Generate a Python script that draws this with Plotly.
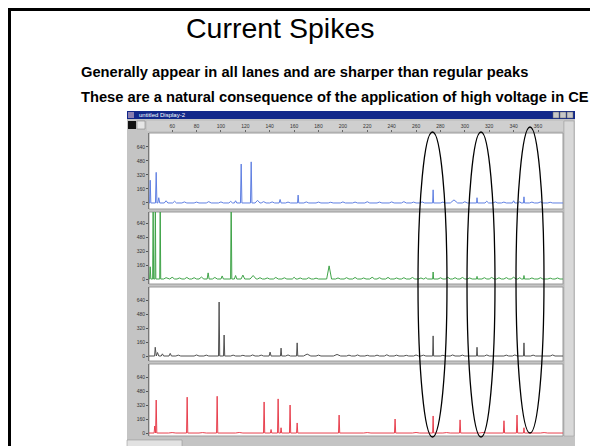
import plotly.graph_objects as go

W, H = 590, 446

# ---------------- data ----------------
title_text = "Current Spikes"
line1_text = "Generally appear in all lanes and are sharper than regular peaks"
line2_text = "These are a natural consequence of the application of high voltage in CE"
window_title = "untitled Display-2"

ruler_ticks = [60, 80, 100, 120, 140, 160, 180, 200, 220, 240, 260, 280, 300, 320, 340, 360]
y_ticks = [0, 160, 320, 480, 640]

# lane 1 (blue): peak positions, heights, half widths
blue_pos = [42.0, 46.9, 49, 55, 62, 70, 80, 90, 100, 108, 112, 116.6, 124.8, 130, 135, 142, 148.5, 155,
            163.3, 170, 180, 190, 200, 210, 220, 230, 240, 250, 258, 265, 274, 282, 291.1, 300, 310, 318,
            325, 332, 340, 345, 348.5, 355, 362, 370]
blue_h = [260, 350, 60, 25, 20, 12, 10, 15, 12, 18, 25, 445, 470, 30, 15, 12, 40, 10,
          90, 12, 10, 8, 12, 10, 14, 10, 12, 15, 10, 12, 150, 10, 35, 14, 60, 20,
          12, 10, 25, 15, 70, 10, 12, 8]
blue_w = [0.5, 0.6, 0.8, 1.5, 1.5, 2, 2, 2, 2, 1.5, 1, 0.6, 0.6, 2, 2, 2, 0.8, 2,
          0.5, 2, 2, 2, 2, 2, 2, 2, 2, 2, 2, 2, 0.4, 2, 3, 2, 0.4, 1.5,
          2, 2, 1, 1, 0.4, 2, 2, 2]

# lane 2 (green)
green_pos = [42, 44.4, 46.2, 50.2, 55, 60, 66, 72, 78, 84, 89.5, 95, 101, 108.4, 112, 118, 126.4, 132,
             138, 145, 152, 160, 165, 172, 178, 188.7, 196, 203, 210, 217, 224, 230, 237, 244, 250, 257,
             264, 268, 274, 280, 286, 292, 298, 304, 310, 316, 322, 328, 334, 340, 345, 348.5, 355, 362,
             370, 376]
green_h = [140, 900, 900, 900, 15, 20, 12, 18, 15, 22, 70, 18, 35, 900, 40, 45, 40, 15,
           12, 18, 14, 20, 12, 15, 10, 150, 12, 15, 18, 12, 20, 15, 18, 12, 15, 18,
           12, 15, 80, 14, 20, 15, 18, 12, 30, 15, 18, 14, 16, 20, 15, 40, 12, 15,
           10, 12]
green_w = [0.5, 0.4, 0.4, 0.4, 2, 2, 2, 2, 2, 2, 0.8, 2, 1, 0.5, 1, 1.5, 2.5, 2,
           2, 2, 2, 1.5, 2, 2, 2, 2, 2, 2, 2, 2, 2, 2, 2, 2, 2, 2,
           2, 1.5, 0.4, 2, 2, 2, 2, 2, 0.4, 2, 2, 2, 2, 2, 1.5, 0.4, 2, 2,
           2, 2]

# lane 3 (black)
black_pos = [46.1, 48, 52, 58.4, 65, 72, 80, 88, 98.5, 102.6, 110, 118, 126, 133, 140.3, 149.3, 155,
             162.5, 170.7, 180, 186, 195.2, 205, 212, 220, 228, 236, 244, 252, 260, 266, 274, 282, 290,
             298, 310, 318, 326, 334, 341, 348.5, 356, 364, 372]
black_h = [100, 40, 25, 30, 10, 8, 12, 10, 617, 240, 10, 8, 12, 10, 45, 90, 12,
           150, 22, 10, 8, 18, 10, 12, 8, 10, 14, 10, 8, 12, 10, 230, 8, 12,
           10, 100, 12, 8, 10, 12, 150, 10, 8, 12]
black_w = [0.5, 1, 1, 1, 2, 2, 2, 2, 0.5, 0.5, 2, 2, 2, 2, 0.8, 0.5, 2,
           0.5, 3, 2, 2, 3, 2, 2, 2, 2, 2, 2, 2, 2, 2, 0.4, 2, 2,
           2, 0.4, 2, 2, 2, 2, 0.4, 2, 2, 2]

# lane 4 (red)
red_pos = [45.7, 46.9, 60, 72.3, 85, 96.9, 115, 135.4, 141.1, 146.9, 149.3, 156.7, 162.5, 180, 196.9,
           220, 242.8, 260, 274, 285, 296.1, 315, 332.1, 342.8, 348.5, 365]
red_h = [80, 377, 5, 410, 5, 420, 6, 355, 40, 390, 60, 320, 115, 5, 205,
         5, 160, 6, 195, 5, 150, 6, 140, 205, 60, 5]
red_w = [0.5, 0.5, 3, 0.5, 3, 0.5, 3, 0.5, 0.5, 0.5, 0.5, 0.5, 0.5, 3, 0.5,
         3, 0.5, 3, 0.4, 3, 0.5, 3, 0.5, 0.5, 0.4, 3]

lane_colors = ["#5f7fe2", "#3fa348", "#505050", "#e8404e"]
# panel vertical extents in pixels (top, bottom) and y ranges
panel_px = [(133, 209), (212, 284), (287, 361), (364, 436)]
y_ranges = [(-69, 800), (-57, 766), (-57, 789), (-34, 789)]
x_range = (41, 380.5)
PX_L, PX_R = 149, 563

# ellipses around the spikes (pixel boxes)
ellipses = [(418, 132, 447, 437), (467, 132, 495, 437), (516, 127, 544, 433)]


def px(x):
    return x / W


def py(y):
    return 1 - y / H


def build_line(pos, hts, wid):
    pts = [(x_range[0], 0)]
    for p, h, w in sorted(zip(pos, hts, wid)):
        pts += [(p - w, 0), (p, h), (p + w, 0)]
    pts.append((x_range[1], 0))
    return [a for a, _ in pts], [b for _, b in pts]


fig = go.Figure()
lanes = [(blue_pos, blue_h, blue_w), (green_pos, green_h, green_w),
         (black_pos, black_h, black_w), (red_pos, red_h, red_w)]
layout_axes = {}
for i, (pos, hts, wid) in enumerate(lanes):
    sfx = "" if i == 0 else str(i + 1)
    xs, ys = build_line(pos, hts, wid)
    fig.add_trace(go.Scatter(x=xs, y=ys, mode="lines", xaxis="x" + sfx, yaxis="y" + sfx,
                             line=dict(color=lane_colors[i], width=1), hoverinfo="skip",
                             showlegend=False))
    top, bot = panel_px[i]
    layout_axes["xaxis" + sfx] = dict(
        domain=[px(PX_L), px(PX_R)], range=list(x_range), anchor="y" + sfx,
        showgrid=False, zeroline=False, showline=False,
        side="top", showticklabels=(i == 0),
        tickvals=ruler_ticks if i == 0 else [], ticks="outside" if i == 0 else "",
        ticklen=2, tickcolor="#666", tickfont=dict(size=5, color="#333", family="Liberation Sans"),
    )
    layout_axes["yaxis" + sfx] = dict(
        domain=[py(bot), py(top)], range=list(y_ranges[i]), anchor="x" + sfx,
        showgrid=False, zeroline=False, showline=True, linecolor="#777", linewidth=1,
        tickvals=y_ticks, ticks="outside", ticklen=2, tickcolor="#555",
        tickfont=dict(size=5, color="#333", family="Liberation Sans"),
    )

shapes = []
# slide border
shapes.append(dict(type="rect", xref="paper", yref="paper", x0=px(9.5), x1=px(700), y0=py(9.5), y1=py(600),
                   line=dict(color="black", width=3), fillcolor="rgba(0,0,0,0)", layer="below"))
# window body
shapes.append(dict(type="rect", xref="paper", yref="paper", x0=px(127), x1=px(575), y0=py(111), y1=py(446),
                   line=dict(width=0), fillcolor="#c4c4c4", layer="below"))
# title bar
shapes.append(dict(type="rect", xref="paper", yref="paper", x0=px(127), x1=px(575), y0=py(111), y1=py(119),
                   line=dict(width=0), fillcolor="#12288a", layer="below"))
# title bar icon and buttons
shapes.append(dict(type="rect", xref="paper", yref="paper", x0=px(128), x1=px(134), y0=py(112), y1=py(118),
                   line=dict(width=0), fillcolor="#8a7fb0", layer="below"))
for bx in (553, 560, 567):
    shapes.append(dict(type="rect", xref="paper", yref="paper", x0=px(bx), x1=px(bx + 6), y0=py(112), y1=py(118),
                       line=dict(color="#666", width=0.5), fillcolor="#c8c8c8", layer="below"))
# toolbar icons
shapes.append(dict(type="rect", xref="paper", yref="paper", x0=px(128), x1=px(136), y0=py(121), y1=py(129),
                   line=dict(width=0), fillcolor="#111", layer="below"))
shapes.append(dict(type="rect", xref="paper", yref="paper", x0=px(137), x1=px(145), y0=py(121), y1=py(129),
                   line=dict(color="#777", width=0.5), fillcolor="#e6e6e6", layer="below"))
# ruler strip
shapes.append(dict(type="rect", xref="paper", yref="paper", x0=px(147), x1=px(563), y0=py(121), y1=py(131),
                   line=dict(width=0), fillcolor="#cfcfcf", layer="below"))
# scrollbar strip at right
shapes.append(dict(type="rect", xref="paper", yref="paper", x0=px(564), x1=px(574), y0=py(121), y1=py(436),
                   line=dict(color="#999", width=0.5), fillcolor="#d9d9d9", layer="below"))
# bottom status field
shapes.append(dict(type="rect", xref="paper", yref="paper", x0=px(127), x1=px(182), y0=py(440), y1=py(447),
                   line=dict(color="#888", width=0.5), fillcolor="#e2e2e2", layer="below"))
# white panels
for top, bot in panel_px:
    shapes.append(dict(type="rect", xref="paper", yref="paper", x0=px(PX_L), x1=px(PX_R), y0=py(bot), y1=py(top),
                       line=dict(color="#9a9a9a", width=1), fillcolor="white", layer="below"))
# ellipses
for x0, y0, x1, y1 in ellipses:
    shapes.append(dict(type="circle", xref="paper", yref="paper", x0=px(x0), x1=px(x1), y0=py(y1), y1=py(y0),
                       line=dict(color="black", width=1.3), fillcolor="rgba(0,0,0,0)", layer="above"))

annotations = [
    dict(text=title_text, xref="paper", yref="paper", x=px(280), y=py(28), xanchor="center", yanchor="middle",
         showarrow=False, font=dict(family="Liberation Sans", size=28.5, color="black")),
    dict(text="<b>" + line1_text + "</b>", xref="paper", yref="paper", x=px(79), y=py(72), xanchor="left",
         yanchor="middle", showarrow=False, font=dict(family="Liberation Sans", size=14.7, color="black")),
    dict(text="<b>" + line2_text + "</b>", xref="paper", yref="paper", x=px(79), y=py(97), xanchor="left",
         yanchor="middle", showarrow=False, font=dict(family="Liberation Sans", size=14.7, color="black")),
    dict(text=window_title, xref="paper", yref="paper", x=px(137), y=py(115), xanchor="left", yanchor="middle",
         showarrow=False, font=dict(family="Liberation Sans", size=6, color="white")),
]

fig.update_layout(
    width=W, height=H, autosize=False,
    margin=dict(l=0, r=0, t=0, b=0),
    paper_bgcolor="white", plot_bgcolor="rgba(0,0,0,0)",
    shapes=shapes, annotations=annotations, showlegend=False,
    **layout_axes,
)

fig.write_html("out.html", config={"displayModeBar": False},
               post_script="document.body.style.margin='0';")
